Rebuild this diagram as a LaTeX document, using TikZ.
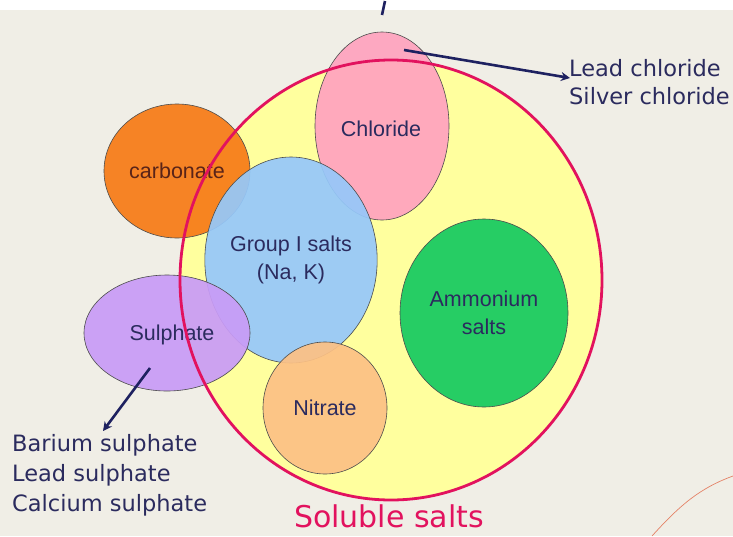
\documentclass[tikz,border=0pt]{standalone}
\usepackage{fontspec}
\setmainfont{Liberation Sans}
\newfontfamily\verd{DejaVu Sans}
\usetikzlibrary{shapes.geometric,arrows.meta}
\definecolor{paper}{HTML}{F0EEE6}
\definecolor{solyel}{HTML}{FFFF9E}
\definecolor{solred}{HTML}{E2125E}
\definecolor{pinkc}{HTML}{FFA3BF}
\definecolor{orangec}{HTML}{F77B17}
\definecolor{bluec}{HTML}{96C8FA}
\definecolor{purplec}{HTML}{C99CF7}
\definecolor{peachc}{HTML}{FCC185}
\definecolor{greenc}{HTML}{16CA60}
\definecolor{navy}{HTML}{2B2B5E}
\definecolor{arrowc}{HTML}{1E2160}
\definecolor{brownt}{HTML}{5A2418}
\tikzset{
  salt/.style={ellipse, draw=black!70, line width=0.6pt, fill opacity=0.93, text opacity=1,
               inner sep=0pt, align=center, font=\fontsize{21.5}{28}\selectfont, text=navy},
  lab/.style={font=\fontsize{21.5}{28}\selectfont, text=navy, inner sep=0pt},
  note/.style={anchor=west, align=left, text=navy, inner sep=0pt},
  link/.style={draw=arrowc, line width=2.6pt, -{Stealth[length=9pt,width=9pt]}}
}
\begin{document}
\begin{tikzpicture}[x=1pt,y=-1pt]
\useasboundingbox (0,0) rectangle (733,536);
\fill[paper] (0,0) rectangle (733,536);
\fill[white] (0,0) rectangle (733,10);
\draw[brown!60!red!70, line width=0.7pt] (652,536) .. controls (680,505) and (700,488) .. (733,476);
% big soluble ellipse fill
\node[ellipse, fill=solyel, minimum width=422pt, minimum height=440pt, inner sep=0pt] (sol) at (391,280) {};
% coloured ellipses
\node[salt, fill=orangec, text=brownt, minimum width=146pt, minimum height=134pt] (carb) at (177,171) {carbonate};
\node[salt, fill=pinkc, minimum width=134pt, minimum height=188pt] (chl) at (382,126) {};
\node[salt, fill=bluec, minimum width=166pt, minimum height=206pt] (grp) at (291,260) {Group I salts\\(Na, K)};
\node[salt, fill=purplec, minimum width=166pt, minimum height=116pt] (sul) at (167,333) {};
\node[salt, fill=peachc, minimum width=124pt, minimum height=132pt] (nit) at (325,408) {Nitrate};
\node[salt, fill=greenc, minimum width=168pt, minimum height=188pt] (amm) at (484,313) {Ammonium\\salts};
\node[lab] (chlt) at (381,129) {Chloride};
\node[lab] (sult) at (172,335) {Sulphate};
% red outline on top
\node[ellipse, draw=solred, line width=2.8pt, minimum width=422pt, minimum height=440pt, inner sep=0pt] (solo) at (391,280) {};
\node[text=solred, font=\verd\fontsize{30}{36}\selectfont, inner sep=0pt] (soll) at (389,516) {Soluble salts};
% notes
\node[note, font=\verd\fontsize{22.5}{28}\selectfont] (cln) at (569,82) {Lead chloride\\Silver chloride};
\node[note, font=\verd\fontsize{22.5}{30}\selectfont] (sln) at (12,475) {Barium sulphate\\Lead sulphate\\Calcium sulphate};
% arrows
\coordinate (a1) at (404,50);
\coordinate (a1e) at (570,78);
\coordinate (a2) at (150,368);
\coordinate (a2e) at (103,431);
\draw[link] (a1) -- (a1e);
\draw[link] (a2) -- (a2e);
\coordinate (t1) at (385,1);
\coordinate (t2) at (382,15);
\draw[arrowc, line width=2.6pt] (t1) -- (t2);
\end{tikzpicture}
\end{document}
